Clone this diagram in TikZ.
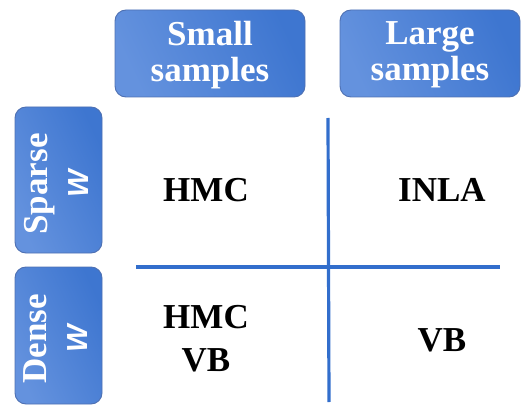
\documentclass[tikz,border=0pt]{standalone}
\usepackage{fontspec}
\setmainfont{Liberation Serif}
\newfontfamily\wfont{Liberation Sans}[BoldItalicFont={Liberation Sans Bold Italic}]
\definecolor{boxlight}{RGB}{100,146,222}
\definecolor{boxdark}{RGB}{62,118,208}
\definecolor{boxedge}{RGB}{78,112,178}
\definecolor{gridblue}{RGB}{50,110,204}
\tikzset{
  headbox/.style={draw=boxedge, line width=0.9pt, rounded corners=11pt,
    left color=boxlight, right color=boxdark, shading angle=115},
  headtext/.style={text=white, font=\bfseries\fontsize{35}{36}\selectfont, align=center, inner sep=0pt},
  sidetext/.style={headtext, rotate=90},
  cell/.style={font=\bfseries\fontsize{35}{36}\selectfont, align=center, inner sep=0pt},
  gridline/.style={draw=gridblue, line width=3.2pt},
}
\newcommand{\wsym}{{\wfont\bfseries\itshape\fontsize{29}{30}\selectfont W}}
\begin{document}
\begin{tikzpicture}[x=1pt, y=-1pt]
  \path[use as bounding box] (0,0) rectangle (522,414);

  % column headers
  \path[headbox] (115,10) rectangle (305,97);
  \node[headtext] (small) at (210,55) {Small\\samples};
  \path[headbox] (340,10) rectangle (520,97);
  \node[headtext] (large) at (430,55) {Large\\samples};

  % row headers
  \path[headbox] (15,107) rectangle (102,253);
  \node[sidetext] (sparse) at (56,184) {Sparse\\[5pt]\wsym};
  \path[headbox] (15,267) rectangle (102,404);
  \node[sidetext] (dense) at (56,339) {Dense\\[5pt]\wsym};

  % dividing cross
  \coordinate (vtop) at (328,118);
  \coordinate (vbot) at (329,402);
  \coordinate (hleft) at (136,267);
  \coordinate (hright) at (500,267);
  \draw[gridline] (vtop) -- (vbot);
  \draw[gridline] (hleft) -- (hright);

  % methods in each cell
  \node[cell] (hmc) at (206,190) {HMC};
  \node[cell] (inla) at (442,190) {INLA};
  \node[cell] (hmcvb) at (206,339) {HMC\\[7pt]VB};
  \node[cell] (vb) at (442,340) {VB};
\end{tikzpicture}
\end{document}
